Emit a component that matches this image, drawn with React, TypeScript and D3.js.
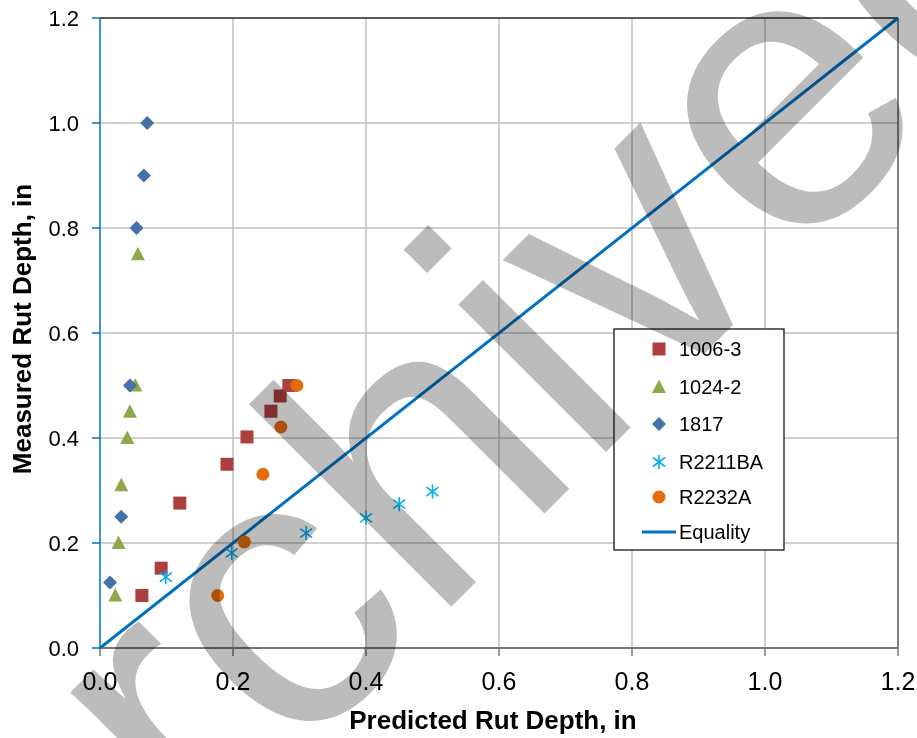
import * as d3 from "d3";

// chart values
const ticks = [0, 0.2, 0.4, 0.6, 0.8, 1.0, 1.2];

const s1006x = [0.063, 0.092, 0.12, 0.191, 0.221, 0.257, 0.271, 0.284];
const s1006y = [0.1, 0.152, 0.276, 0.35, 0.402, 0.451, 0.48, 0.5];

const s1024x = [0.057, 0.053, 0.045, 0.041, 0.032, 0.028, 0.023];
const s1024y = [0.75, 0.5, 0.45, 0.4, 0.31, 0.2, 0.1];

const s1817x = [0.071, 0.066, 0.055, 0.045, 0.032, 0.015];
const s1817y = [1.0, 0.9, 0.8, 0.5, 0.25, 0.125];

const r2211x = [0.099, 0.198, 0.31, 0.4, 0.45, 0.5];
const r2211y = [0.135, 0.181, 0.219, 0.248, 0.274, 0.298];

const r2232x = [0.177, 0.217, 0.245, 0.272, 0.296];
const r2232y = [0.1, 0.202, 0.331, 0.421, 0.5];

const equality = [0, 1.2];

const legendNames = ["1006-3", "1024-2", "1817", "R2211BA", "R2232A", "Equality"];

const font = "'Liberation Sans', Arial, sans-serif";

const width = 917;
const height = 738;

function Marker({ kind, cx, cy }: { kind: string; cx: number; cy: number }) {
  if (kind === "square")
    return <rect x={cx - 6.5} y={cy - 6.5} width={13} height={13} fill="#AD403E" />;
  if (kind === "triangle")
    return (
      <path
        d={`M${cx},${cy - 7.5}L${cx + 7},${cy + 6}L${cx - 7},${cy + 6}Z`}
        fill="#8DA94C"
      />
    );
  if (kind === "diamond")
    return (
      <path
        d={`M${cx},${cy - 7}L${cx + 7},${cy}L${cx},${cy + 7}L${cx - 7},${cy}Z`}
        fill="#4571A8"
      />
    );
  if (kind === "star")
    return (
      <g stroke="#00B0F0" strokeWidth={1.6}>
        <line x1={cx} y1={cy - 7} x2={cx} y2={cy + 7} />
        <line x1={cx - 6} y1={cy - 4.5} x2={cx + 6} y2={cy + 4.5} />
        <line x1={cx - 6} y1={cy + 4.5} x2={cx + 6} y2={cy - 4.5} />
      </g>
    );
  return <circle cx={cx} cy={cy} r={6.5} fill="#E56C0B" />;
}

export default function App() {
  const x = d3.scaleLinear([0, 1.2], [100, 898]);
  const y = d3.scaleLinear([0, 1.2], [648, 18]);
  const fmt = d3.format(".1f");

  const series = [
    { kind: "square", xs: s1006x, ys: s1006y },
    { kind: "triangle", xs: s1024x, ys: s1024y },
    { kind: "diamond", xs: s1817x, ys: s1817y },
    { kind: "star", xs: r2211x, ys: r2211y },
    { kind: "circle", xs: r2232x, ys: r2232y },
  ];

  const line = d3
    .line<number>()
    .x((d) => x(d))
    .y((d) => y(d));

  const legendKinds = ["square", "triangle", "diamond", "star", "circle", "line"];
  const legendRows = [349, 387, 424, 462, 497, 532];

  return (
    <div style={{ position: "absolute", left: 0, top: 0 }}>
      <svg width={width} height={height} style={{ display: "block", background: "#fff" }}>
        <rect width={width} height={height} fill="#fff" />

        {/* grid */}
        <g stroke="#c0c0c0" strokeWidth={1.5}>
          {ticks.slice(1, -1).map((t) => (
            <line key={"v" + t} x1={x(t)} x2={x(t)} y1={y(0)} y2={y(1.2)} />
          ))}
          {ticks.slice(1, -1).map((t) => (
            <line key={"h" + t} x1={x(0)} x2={x(1.2)} y1={y(t)} y2={y(t)} />
          ))}
        </g>

        {/* plot border */}
        <line x1={x(0)} x2={x(1.2)} y1={y(1.2)} y2={y(1.2)} stroke="#262626" strokeWidth={1.5} />
        <line x1={x(1.2)} x2={x(1.2)} y1={y(1.2)} y2={y(0)} stroke="#595959" strokeWidth={1.5} />

        {/* x axis */}
        <line x1={x(0)} x2={x(1.2)} y1={y(0)} y2={y(0)} stroke="#767676" strokeWidth={2} />
        {ticks.map((t) => (
          <line key={"xt" + t} x1={x(t)} x2={x(t)} y1={y(0)} y2={y(0) + 8} stroke="#767676" strokeWidth={1.5} />
        ))}
        {ticks.map((t) => (
          <text key={"xl" + t} x={x(t)} y={690} textAnchor="middle" fontFamily={font} fontSize={25} fill="#000">
            {fmt(t)}
          </text>
        ))}

        {/* y axis */}
        <line x1={x(0)} x2={x(0)} y1={y(0)} y2={y(1.2)} stroke="#0070C0" strokeWidth={1.5} />
        {ticks.map((t) => (
          <line key={"yt" + t} x1={x(0) - 8} x2={x(0)} y1={y(t)} y2={y(t)} stroke="#0070C0" strokeWidth={1.5} />
        ))}
        {ticks.map((t) => (
          <text key={"yl" + t} x={79} y={y(t) + 8} textAnchor="end" fontFamily={font} fontSize={22} fill="#000">
            {fmt(t)}
          </text>
        ))}

        {/* titles */}
        <text x={493} y={729} textAnchor="middle" fontFamily={font} fontSize={26} fontWeight="bold">
          Predicted Rut Depth, in
        </text>
        <text
          transform="translate(31,329) rotate(-90)"
          textAnchor="middle"
          fontFamily={font}
          fontSize={26}
          fontWeight="bold"
        >
          Measured Rut Depth, in
        </text>

        {/* equality line */}
        <path d={line(equality) || ""} stroke="#0070C0" strokeWidth={3} fill="none" />

        {/* points */}
        {series.map((s) =>
          s.xs.map((v, i) => (
            <Marker key={s.kind + i} kind={s.kind} cx={x(v)} cy={y(s.ys[i])} />
          ))
        )}

        {/* legend */}
        <rect x={614} y={329} width={170} height={221} fill="#fff" stroke="#000" strokeWidth={1.2} />
        {legendNames.map((name, i) => (
          <g key={name}>
            {legendKinds[i] === "line" ? (
              <line x1={642} x2={676} y1={legendRows[i]} y2={legendRows[i]} stroke="#0070C0" strokeWidth={3} />
            ) : (
              <Marker kind={legendKinds[i]} cx={659} cy={legendRows[i]} />
            )}
            <text x={679} y={legendRows[i] + 7} fontFamily={font} fontSize={20} fill="#000">
              {name}
            </text>
          </g>
        ))}

        {/* watermark */}
        <text
          transform="translate(13,1045) rotate(-45)"
          fontFamily={font}
          fontSize={395}
          fill="#bcbcbc"
          style={{ mixBlendMode: "multiply" }}
        >
          Archived
        </text>
      </svg>
    </div>
  );
}
